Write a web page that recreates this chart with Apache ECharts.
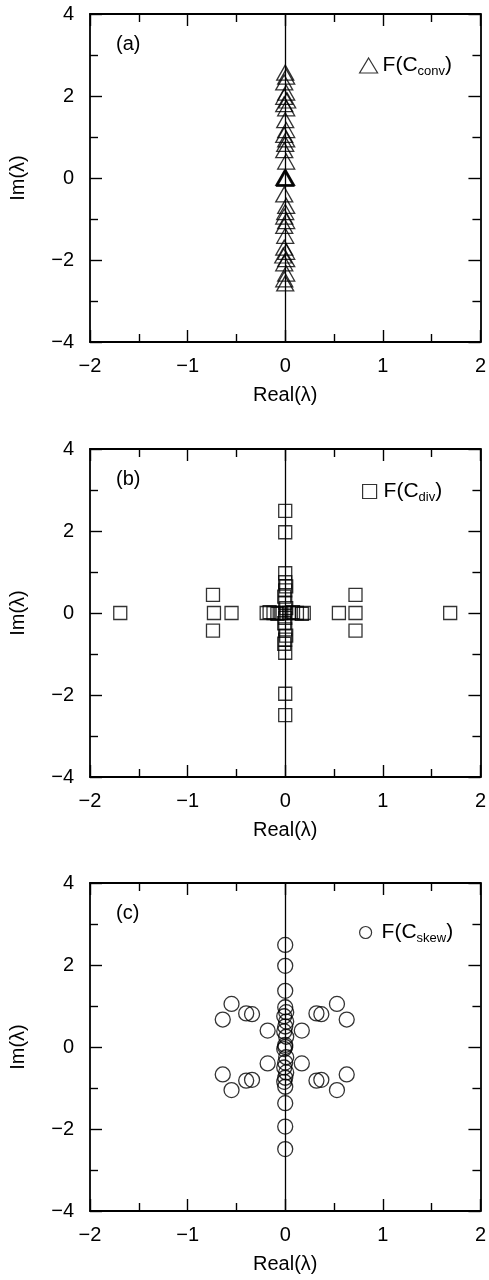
<!DOCTYPE html>
<html>
<head>
<meta charset="utf-8">
<script src="https://cdn.jsdelivr.net/npm/echarts@6/dist/echarts.min.js"></script>
<style>html,body{margin:0;padding:0;background:#fff;}#c{width:489px;height:1280px;}</style>
</head>
<body>
<div id="c"></div>
<script>
// Panel (a): F(C_conv) eigenvalues
const aReal = [0, 0.01, -0.01, 0.01, -0.01, 0.02, -0.01, 0.01, 0, 0.01, -0.01, 0.01, 0, -0.01, 0.01, 0, -0.01, 0, 0.01,
               0, -0.01, 0.01, -0.01, 0.01, -0.02, 0.01, -0.01, 0, -0.01, 0.01, -0.01, 0, 0.01, -0.01, 0];
const aImag = [2.57, 2.47, 2.33, 2.08, 1.98, 1.89, 1.80, 1.70, 1.41, 1.17, 1.05, 0.94, 0.83, 0.68, 0.40, 0.02, 0, -0.02, 0,
               -2.57, -2.47, -2.33, -2.08, -1.98, -1.89, -1.80, -1.70, -1.41, -1.17, -1.05, -0.94, -0.83, -0.68, -0.40, 0.01];
// Panel (b): F(C_div) eigenvalues
const bReal = [-1.69, -0.74, -0.73, -0.74, -0.55, 0.55, 0.72, 0.72, 0.72, 1.69,
               -0.19, -0.16, -0.12, -0.08, -0.04, 0.04, 0.08, 0.12, 0.17, 0.19,
               0, 0, 0, 0, 0.01, 0, -0.01, 0, 0.01, 0, 0, -0.01, 0, 0.01, 0, -0.01, 0, 0, 0];
const bImag = [0, 0.44, 0, -0.43, 0, 0, 0.44, 0, -0.43, 0,
               0, 0.02, 0, -0.02, 0, 0, 0.02, 0, -0.02, 0,
               2.49, 1.97, 0.97, 0.75, 0.65, 0.55, 0.40, 0.25, 0.12, 0, -0.12, -0.25, -0.40, -0.55, -0.65, -0.75, -0.97, -1.97, -2.49];
// Panel (c): F(C_skew) eigenvalues
const cReal = [0, 0, 0, 0, 0.01, -0.01, 0.01, 0, -0.01, 0.01, 0, 0, -0.01, 0.01, 0, -0.01, 0.01, 0, -0.01, 0, 0, 0, 0,
               -0.55, -0.64, -0.40, -0.34, -0.18, 0.53, 0.63, 0.32, 0.37, 0.17,
               -0.55, -0.64, -0.40, -0.34, -0.18, 0.53, 0.63, 0.32, 0.37, 0.17];
const cImag = [2.49, 1.98, 1.37, 0.97, 0.85, 0.75, 0.62, 0.50, 0.38, 0.25, 0.05, 0, -0.05, -0.25, -0.38, -0.50, -0.62, -0.75, -0.85, -0.97, -1.37, -1.94, -2.49,
               1.05, 0.67, 0.82, 0.80, 0.40, 1.05, 0.67, 0.82, 0.80, 0.40,
               -1.05, -0.67, -0.82, -0.80, -0.40, -1.05, -0.67, -0.82, -0.80, -0.40];
const xTicks = [-2, -1, 0, 1, 2];
const yTicks = [-4, -2, 0, 2, 4];
const panelLabels = ['(a)', '(b)', '(c)'];
const seriesNames = ['F(C_conv)', 'F(C_div)', 'F(C_skew)'];
const subs = ['conv', 'div', 'skew'];

const pairs = (re, im) => re.map((r, i) => [r, im[i]]);
const datasets = [pairs(aReal, aImag), pairs(bReal, bImag), pairs(cReal, cImag)];
const symbols = ['triangle', 'rect', 'circle'];
const symbolSizes = [[17, 15], 13, 15];

const FONT = "'Liberation Sans', Arial, Helvetica, sans-serif";
const tops = [14, 449, 883];
const H = 328;
const minus = v => String(v).replace('-', '\u2212');

const grid = [], xAxis = [], yAxis = [], series = [], legend = [], title = [];
const legTops = [48, 474, 915];
const legLefts = [354, 357, 354];
const legIcon = [[18, 15], [14, 14], [12, 12]];
const legPad = [0, 2, 5];

tops.forEach((t, i) => {
  grid.push({ left: 88, right: 7, top: t, height: H });
  const tickCommon = {
    axisLine: { show: true, onZero: false, lineStyle: { color: '#000', width: 1.8 } },
    axisTick: { show: true, inside: true, length: 12, lineStyle: { color: '#000', width: 1.4 } },
    minorTick: { show: true, splitNumber: 2, length: 8, lineStyle: { color: '#000', width: 1.4 } },
    splitLine: { show: false }, minorSplitLine: { show: false }
  };
  xAxis.push(Object.assign({
    gridIndex: i, type: 'value', position: 'bottom', min: xTicks[0], max: xTicks[xTicks.length - 1], interval: 1,
    name: 'Real(\u03bb)', nameLocation: 'middle', nameGap: 43,
    nameTextStyle: { fontFamily: FONT, fontSize: 20, color: '#000' },
    axisLabel: { show: true, margin: 14, fontFamily: FONT, fontSize: 20, color: '#000', formatter: minus }
  }, tickCommon));
  xAxis.push(Object.assign({
    gridIndex: i, type: 'value', position: 'top', min: xTicks[0], max: xTicks[xTicks.length - 1], interval: 1,
    axisLabel: { show: false }
  }, tickCommon));
  yAxis.push(Object.assign({
    gridIndex: i, type: 'value', position: 'left', min: yTicks[0], max: yTicks[yTicks.length - 1], interval: 2,
    name: 'Im(\u03bb)', nameLocation: 'middle', nameGap: 62, nameRotate: 90,
    nameTextStyle: { fontFamily: FONT, fontSize: 20, color: '#000' },
    axisLabel: { show: true, margin: 16, fontFamily: FONT, fontSize: 20, color: '#000', formatter: minus }
  }, tickCommon));
  yAxis.push(Object.assign({
    gridIndex: i, type: 'value', position: 'right', min: yTicks[0], max: yTicks[yTicks.length - 1], interval: 2,
    axisLabel: { show: false }
  }, tickCommon));

  series.push({
    name: seriesNames[i], type: 'scatter', xAxisIndex: 2 * i, yAxisIndex: 2 * i,
    data: datasets[i], symbol: symbols[i], symbolSize: symbolSizes[i],
    itemStyle: { color: 'rgba(0,0,0,0)', borderColor: '#000', borderWidth: 1.3 },
    emphasis: { disabled: true }, silent: true,
    markLine: {
      silent: true, symbol: ['none', 'none'], label: { show: false },
      lineStyle: { color: '#000', width: 1.3, type: 'solid' },
      data: [{ xAxis: 0 }]
    }
  });

  legend.push({
    data: [seriesNames[i]], left: legLefts[i], top: legTops[i], orient: 'horizontal',
    itemWidth: legIcon[i][0], itemHeight: legIcon[i][1], itemGap: 0,
    selectedMode: false,
    itemStyle: { color: 'rgba(0,0,0,0)', borderColor: '#000', borderWidth: 1.2 },
    formatter: () => '{m|F(C}{s|' + subs[i] + '}{m|)}',
    textStyle: {
      fontFamily: FONT, color: '#000', padding: [0, 0, 0, legPad[i]],
      rich: {
        m: { fontFamily: FONT, fontSize: 21, color: '#000', lineHeight: 24, verticalAlign: 'middle' },
        s: { fontFamily: FONT, fontSize: 13, color: '#000', lineHeight: 24, padding: [12, 0, 0, 0], verticalAlign: 'middle' }
      }
    }
  });

  title.push({
    text: panelLabels[i], left: 111, top: t + 15,
    textStyle: { fontFamily: FONT, fontSize: 20, fontWeight: 'normal', color: '#000' }
  });
});

const chart = echarts.init(document.getElementById('c'), null, { renderer: 'canvas' });
chart.setOption({
  animation: false, backgroundColor: '#fff',
  title, grid, xAxis, yAxis, series, legend
});
</script>
</body>
</html>
